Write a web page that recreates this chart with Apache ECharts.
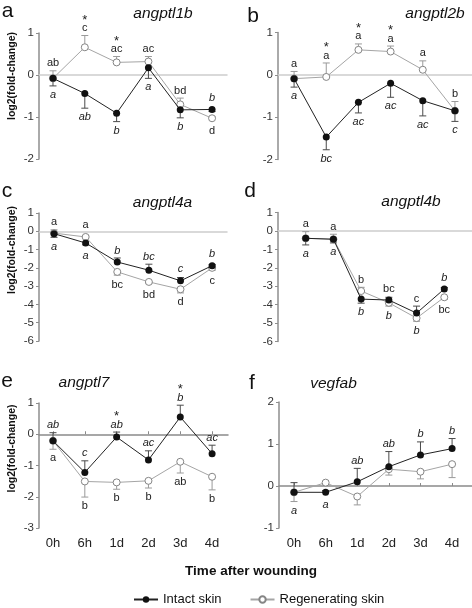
<!DOCTYPE html>
<html><head><meta charset="utf-8">
<script src="https://cdn.jsdelivr.net/npm/echarts@6/dist/echarts.min.js"></script>
<style>html,body{margin:0;padding:0;background:#fff}#c{width:472px;height:608px}</style>
</head><body><div id="c"></div>
<script>
// ---------- DATA ----------
const categories = ['0h','6h','1d','2d','3d','4d'];
const geneNames = ['angptl1b','angptl2b','angptl4a','angptl4b','angptl7','vegfab'];
const panelLetters = ['a','b','c','d','e','f'];
const seriesNames = ['Intact skin','Regenerating skin'];
const yAxisTitle = 'log2(fold-change)';
const xAxisTitle = 'Time after wounding';

// a – angptl1b
const aIntact = [-0.08,-0.44,-0.91,0.17,-0.83,-0.82];
const aIntactErr = [0.18,0.35,0.20,0.25,0.19,0.05];
const aIntactDir = [-1,-1,-1,-1,-1,-1];
const aIntactLetters = ['a','ab','b','a','b','b'];
const aIntactSide = [-1,-1,-1,-1,-1,1];
const aRegen = [-0.08,0.66,0.30,0.32,-0.70,-1.03];
const aRegenErr = [0.18,0.28,0.14,0.12,0.15,0.04];
const aRegenDir = [1,1,1,1,1,1];
const aRegenLetters = ['ab','c','ac','ac','bd','d'];
const aRegenSide = [1,1,1,1,1,-1];
const aStars = [0,1,1,0,0,0];

// b – angptl2b
const bIntact = [-0.09,-1.47,-0.65,-0.20,-0.61,-0.85];
const bIntactErr = [0.20,0.30,0.25,0.33,0.36,0.25];
const bIntactDir = [-1,-1,-1,-1,-1,-1];
const bIntactLetters = ['a','bc','ac','ac','ac','c'];
const bIntactSide = [-1,-1,-1,-1,-1,-1];
const bRegen = [-0.09,-0.05,0.59,0.55,0.12,-0.85];
const bRegenErr = [0.17,0.33,0.14,0.13,0.21,0.22];
const bRegenDir = [1,1,1,1,1,1];
const bRegenLetters = ['a','a','a','a','a','b'];
const bRegenSide = [1,1,1,1,1,1];
const bStars = [0,1,1,1,0,0];

// c – angptl4a
const cIntact = [-0.13,-0.64,-1.68,-2.13,-2.71,-1.88];
const cIntactErr = [0.20,0.10,0.22,0.33,0.18,0.06];
const cIntactDir = [-1,-1,1,1,1,1];
const cIntactLetters = ['a','a','b','bc','c','b'];
const cIntactSide = [-1,-1,1,1,1,1];
const cRegen = [-0.10,-0.31,-2.22,-2.77,-3.17,-2.00];
const cRegenErr = [0.18,0.07,0.18,0.08,0.20,0.13];
const cRegenDir = [1,1,-1,-1,-1,-1];
const cRegenLetters = ['a','a','bc','bd','d','c'];
const cRegenSide = [1,1,-1,-1,-1,-1];
const cStars = [0,0,0,0,0,0];

// d – angptl4b
const dIntact = [-0.40,-0.45,-3.70,-3.75,-4.46,-3.15];
const dIntactErr = [0.36,0.20,0.22,0.15,0.38,0.08];
const dIntactDir = [-1,-1,-1,1,1,1];
const dIntactLetters = ['a','a','b','b','b','b'];
const dIntactSide = [-1,-1,-1,-1,-1,1];
const dRegen = [-0.40,-0.45,-3.26,-3.90,-4.73,-3.60];
const dRegenErr = [0.36,0.27,0.20,0.18,0.17,0.12];
const dRegenDir = [1,1,1,-1,-1,-1];
const dRegenLetters = ['a','a','b','bc','c','bc'];
const dRegenSide = [1,1,1,1,1,-1];
const dStars = [0,0,0,0,0,0];

// e – angptl7
const eIntact = [-0.21,-1.22,-0.09,-0.82,0.55,-0.62];
const eIntactErr = [0.26,0.37,0.16,0.29,0.38,0.27];
const eIntactDir = [1,1,1,1,1,1];
const eIntactLetters = ['ab','c','ab','ac','b','ac'];
const eIntactSide = [1,1,1,1,1,1];
const eRegen = [-0.21,-1.51,-1.54,-1.49,-0.88,-1.36];
const eRegenErr = [0.27,0.50,0.22,0.23,0.36,0.42];
const eRegenDir = [-1,-1,-1,-1,-1,-1];
const eRegenLetters = ['a','b','b','b','ab','b'];
const eRegenSide = [-1,-1,-1,-1,-1,-1];
const eStars = [0,0,1,0,1,0];

// f – vegfab
const fIntact = [-0.15,-0.15,0.10,0.46,0.74,0.89];
const fIntactErr = [0.23,0.04,0.32,0.36,0.31,0.24];
const fIntactDir = [1,1,1,1,1,1];
const fIntactLetters = ['a','a','ab','ab','b','b'];
const fIntactSide = [-1,-1,1,1,1,1];
const fRegen = [-0.15,0.08,-0.25,0.40,0.34,0.52];
const fRegenErr = [0.22,0.05,0.20,0.14,0.17,0.32];
const fRegenDir = [-1,-1,-1,-1,-1,-1];
const fRegenLetters = ['','','','','',''];
const fRegenSide = [-1,-1,-1,-1,-1,-1];
const fStars = [0,0,0,0,0,0];

// ---------- ASSEMBLY ----------
const panelData = [
  {intact:aIntact,iErr:aIntactErr,iDir:aIntactDir,iLet:aIntactLetters,iSide:aIntactSide,regen:aRegen,rErr:aRegenErr,rDir:aRegenDir,rLet:aRegenLetters,rSide:aRegenSide,stars:aStars},
  {intact:bIntact,iErr:bIntactErr,iDir:bIntactDir,iLet:bIntactLetters,iSide:bIntactSide,regen:bRegen,rErr:bRegenErr,rDir:bRegenDir,rLet:bRegenLetters,rSide:bRegenSide,stars:bStars},
  {intact:cIntact,iErr:cIntactErr,iDir:cIntactDir,iLet:cIntactLetters,iSide:cIntactSide,regen:cRegen,rErr:cRegenErr,rDir:cRegenDir,rLet:cRegenLetters,rSide:cRegenSide,stars:cStars},
  {intact:dIntact,iErr:dIntactErr,iDir:dIntactDir,iLet:dIntactLetters,iSide:dIntactSide,regen:dRegen,rErr:dRegenErr,rDir:dRegenDir,rLet:dRegenLetters,rSide:dRegenSide,stars:dStars},
  {intact:eIntact,iErr:eIntactErr,iDir:eIntactDir,iLet:eIntactLetters,iSide:eIntactSide,regen:eRegen,rErr:eRegenErr,rDir:eRegenDir,rLet:eRegenLetters,rSide:eRegenSide,stars:eStars},
  {intact:fIntact,iErr:fIntactErr,iDir:fIntactDir,iLet:fIntactLetters,iSide:fIntactSide,regen:fRegen,rErr:fRegenErr,rDir:fRegenDir,rLet:fRegenLetters,rSide:fRegenSide,stars:fStars}
];

const layout = [
  {left:39, right:227, top:33, bottom:159, xMin:-0.44, xMax:5.47, yMin:-2, yMax:1, xLab:false},
  {left:278, right:472, top:32.5, bottom:159.5, xMin:-0.5, xMax:5.53, yMin:-2, yMax:1, xLab:false},
  {left:39, right:227, top:213, bottom:341, xMin:-0.475, xMax:5.47, yMin:-6, yMax:1, xLab:false},
  {left:278, right:472, top:212.5, bottom:341.5, xMin:-1, xMax:6, yMin:-6, yMax:1, xLab:false},
  {left:39, right:228, top:403, bottom:528, xMin:-0.44, xMax:5.5, yMin:-3, yMax:1, xLab:true},
  {left:279, right:472, top:402, bottom:528, xMin:-0.475, xMax:5.63, yMin:-1, yMax:2, xLab:true}
];

const FONT = '"Liberation Sans", Arial, Helvetica, sans-serif';
const catIdx = categories.map((c,i)=>i);

const grids = [], xAxes = [], yAxes = [], series = [];
layout.forEach((L, k) => {
  grids.push({left:L.left, top:L.top, width:L.right-L.left, height:L.bottom-L.top, containLabel:false});
  const xMain = xAxes.length;
  xAxes.push({
    type:'value', gridIndex:k, min:L.xMin, max:L.xMax, position:'bottom',
    axisLine:{show:true, onZero:true, lineStyle:{color: L.xLab ? '#8a8a8a' : '#cdcdcd', width:1.5}},
    axisTick: L.xLab ? {show:true, inside:true, length:3, customValues:catIdx, lineStyle:{color:'#8a8a8a', width:1}} : {show:false},
    axisLabel:{show:false}, splitLine:{show:false}
  });
  if (L.xLab) {
    xAxes.push({
      type:'value', gridIndex:k, min:L.xMin, max:L.xMax, position:'bottom',
      axisLine:{show:false, onZero:false}, axisTick:{show:false}, splitLine:{show:false},
      axisLabel:{show:true, customValues:catIdx, formatter:v=>categories[Math.round(v)], fontSize:13, color:'#222', fontFamily:FONT, margin:9}
    });
  }
  yAxes.push({
    type:'value', gridIndex:k, min:L.yMin, max:L.yMax, interval:1,
    axisLine:{show:true, onZero:false, lineStyle:{color:'#8e8e8e', width:1.5}},
    axisTick:{show:true, length:3, lineStyle:{color:'#8e8e8e'}},
    axisLabel:{fontSize:11.5, color:'#333', fontFamily:FONT, margin:5},
    splitLine:{show:false}
  });
  const P = panelData[k];
  series.push({
    type:'custom', xAxisIndex:xMain, yAxisIndex:k, z:1, clip:false, silent:true,
    data: catIdx.map(i=>[i]),
    renderItem: function(params, api){
      const i = params.dataIndex;
      const kids = [];
      let topY = Infinity, botY = -Infinity;
      const sets = [
        {v:P.intact, e:P.iErr, d:P.iDir, color:'#4a4a4a'},
        {v:P.regen, e:P.rErr, d:P.rDir, color:'#9a9a9a'}
      ];
      sets.forEach(s=>{
        const p0 = api.coord([i, s.v[i]]);
        const p1 = api.coord([i, s.v[i] + s.d[i]*s.e[i]]);
        kids.push({type:'line', shape:{x1:p0[0],y1:p0[1],x2:p1[0],y2:p1[1]}, style:{stroke:s.color,lineWidth:1}});
        kids.push({type:'line', shape:{x1:p1[0]-3.5,y1:p1[1],x2:p1[0]+3.5,y2:p1[1]}, style:{stroke:s.color,lineWidth:1}});
        topY = Math.min(topY, p0[1]-4, p1[1]);
        botY = Math.max(botY, p0[1]+4, p1[1]);
      });
      const xc = api.coord([i, 0])[0];
      let upperLabelY = null;
      const labs = [
        {t:P.iLet[i], side:P.iSide[i], italic:true},
        {t:P.rLet[i], side:P.rSide[i], italic:false}
      ];
      labs.forEach(l=>{
        if (!l.t) return;
        const y = l.side > 0 ? topY - 7.5 : botY + 9;
        if (l.side > 0) upperLabelY = y;
        kids.push({type:'text', x:xc, y:y, style:{text:l.t, fill:'#222', fontSize:11, fontStyle:l.italic?'italic':'normal', fontFamily:FONT, align:'center', verticalAlign:'middle'}});
      });
      if (P.stars[i] && upperLabelY !== null) {
        kids.push({type:'text', x:xc, y:upperLabelY-8, style:{text:'*', fill:'#222', fontSize:13, fontFamily:FONT, align:'center', verticalAlign:'middle'}});
      }
      return {type:'group', children:kids};
    }
  });
  series.push({
    name:seriesNames[1], type:'line', xAxisIndex:xMain, yAxisIndex:k, z:2,
    data:P.regen.map((v,i)=>[i,v]),
    symbol:'circle', symbolSize:7,
    itemStyle:{color:'#ffffff', borderColor:'#858585', borderWidth:1},
    lineStyle:{color:'#a5a5a5', width:1}
  });
  series.push({
    name:seriesNames[0], type:'line', xAxisIndex:xMain, yAxisIndex:k, z:3,
    data:P.intact.map((v,i)=>[i,v]),
    symbol:'circle', symbolSize:7,
    itemStyle:{color:'#111111', borderColor:'#111111', borderWidth:0},
    lineStyle:{color:'#222222', width:1}
  });
});

// ---------- TEXTS ----------
const letterPos = [[7.5,11.5],[253,16],[7,191],[250,191.5],[7,381],[252,383]];
const genePos = [[163,13.5],[435,13.5],[162.5,202.5],[411,202],[84,382.5],[333.5,384]];
const yTitlePos = [[12,76],[12,250],[12,448.5]];
const graphics = [];
panelLetters.forEach((t,k)=>graphics.push({type:'text', x:letterPos[k][0], y:letterPos[k][1], silent:true,
  style:{text:t, fontSize:21, fill:'#111', fontFamily:FONT, align:'center', verticalAlign:'middle'}}));
geneNames.forEach((t,k)=>graphics.push({type:'text', x:genePos[k][0], y:genePos[k][1], silent:true,
  style:{text:t, fontSize:15.5, fontStyle:'italic', fill:'#111', fontFamily:FONT, align:'center', verticalAlign:'middle'}}));
yTitlePos.forEach(p=>graphics.push({type:'text', x:p[0], y:p[1], rotation:Math.PI/2, silent:true,
  style:{text:yAxisTitle, fontSize:10.5, fontWeight:'bold', fill:'#111', fontFamily:FONT, align:'center', verticalAlign:'middle'}}));
graphics.push({type:'text', x:251, y:571, silent:true,
  style:{text:xAxisTitle, fontSize:13.5, fontWeight:'bold', fill:'#111', fontFamily:FONT, align:'center', verticalAlign:'middle'}});

const chart = echarts.init(document.getElementById('c'), null, {renderer:'canvas'});
chart.setOption({
  animation:false,
  backgroundColor:'#ffffff',
  grid:grids, xAxis:xAxes, yAxis:yAxes, series:series,
  graphic:graphics,
  legend:{data:seriesNames, left:128, top:588, itemWidth:24, itemHeight:8, itemGap:28,
    textStyle:{fontSize:13, color:'#111', fontFamily:FONT}}
});
</script></body></html>
